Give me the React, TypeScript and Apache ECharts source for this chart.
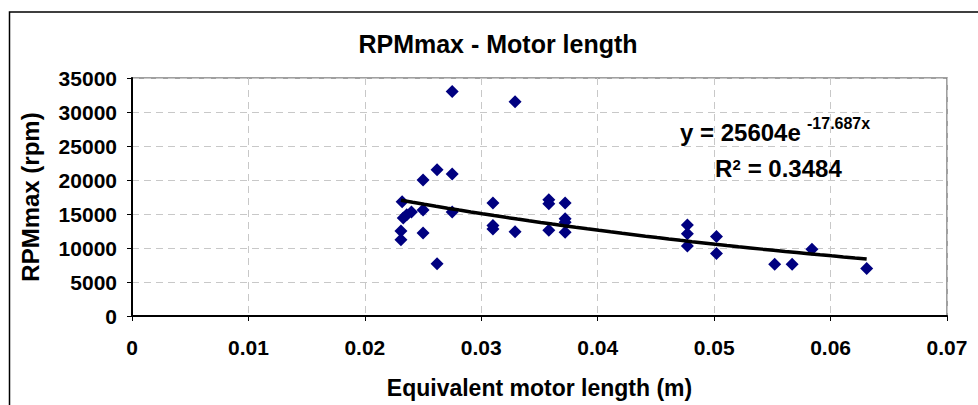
import React, { useEffect, useRef } from "react";
import * as echarts from "echarts";

// Equivalent motor length (m) and RPMmax (rpm)
const motorLength = [
  0.0232, 0.0233, 0.0236, 0.0240, 0.0231, 0.0231,
  0.0250, 0.0250, 0.0250, 0.0262, 0.0262, 0.0275, 0.0275, 0.0275,
  0.0310, 0.0310, 0.0310, 0.0329, 0.0329,
  0.0358, 0.0358, 0.0358, 0.0372, 0.0372, 0.0372, 0.0372,
  0.0477, 0.0477, 0.0477, 0.0502, 0.0502,
  0.0552, 0.0567, 0.0584, 0.0631,
];
const rpmMax = [
  16800, 14400, 14900, 15300, 12500, 11200,
  20000, 15600, 12200, 21500, 7700, 33000, 20900, 15300,
  16600, 13300, 12800, 31500, 12400,
  17100, 16500, 12600, 16600, 14300, 13800, 12300,
  13400, 12100, 10300, 11700, 9200,
  7600, 7600, 9800, 7000,
];

// Trend line y = A * exp(k x) as displayed in the chart
const trendA = 25604;
const trendK = -17.687;
const trendSteps = 40;

const xTicks = { min: 0, max: 0.07, interval: 0.01 };
const yTicks = { min: 0, max: 35000, interval: 5000 };

const FONT = "'Liberation Sans', Arial, sans-serif";

export default function App() {
  const ref = useRef<HTMLDivElement>(null);

  useEffect(() => {
    if (!ref.current) return;
    const chart = echarts.init(ref.current, undefined, { renderer: "svg" });

    const points = motorLength.map((x, i) => [x, rpmMax[i]]);
    const xMin = Math.min(...motorLength);
    const xMax = Math.max(...motorLength);
    const trend: number[][] = [];
    for (let i = 0; i <= trendSteps; i++) {
      const x = xMin + ((xMax - xMin) * i) / trendSteps;
      trend.push([x, trendA * Math.exp(trendK * x)]);
    }

    const txt = (text: string, x: number, y: number, size: number, align = "left") => ({
      type: "text",
      x,
      y,
      silent: true,
      style: {
        text,
        fill: "#000",
        font: `bold ${size}px ${FONT}`,
        textAlign: align,
        textVerticalAlign: "middle",
      },
    });

    chart.setOption({
      animation: false,
      backgroundColor: "#fff",
      grid: {
        left: 132,
        right: 31,
        top: 78,
        bottom: 89,
        show: true,
        borderColor: "#808080",
        borderWidth: 1.5,
      },
      xAxis: {
        type: "value",
        min: xTicks.min,
        max: xTicks.max,
        interval: xTicks.interval,
        name: "Equivalent motor length (m)",
        nameLocation: "middle",
        nameGap: 60,
        nameTextStyle: { fontFamily: FONT, fontWeight: "bold", fontSize: 23, color: "#000" },
        axisLine: { show: true, onZero: false, lineStyle: { color: "#000", width: 2 } },
        axisTick: { show: true, inside: false, length: 5, lineStyle: { color: "#000", width: 1 } },
        axisLabel: {
          margin: 21,
          fontFamily: FONT,
          fontWeight: "bold",
          fontSize: 21,
          color: "#000",
          formatter: (v: number) => String(Number(v.toFixed(4))),
        },
        splitLine: { show: true, lineStyle: { color: "#c8c8c8", width: 1, type: [7, 5] } },
      },
      yAxis: {
        type: "value",
        min: yTicks.min,
        max: yTicks.max,
        interval: yTicks.interval,
        name: "RPMmax (rpm)",
        nameLocation: "middle",
        nameGap: 90,
        nameRotate: 90,
        nameTextStyle: { fontFamily: FONT, fontWeight: "bold", fontSize: 24, color: "#000" },
        axisLine: { show: true, onZero: false, lineStyle: { color: "#000", width: 2 } },
        axisTick: { show: true, inside: false, length: 5, lineStyle: { color: "#000", width: 1 } },
        axisLabel: {
          margin: 15,
          fontFamily: FONT,
          fontWeight: "bold",
          fontSize: 21,
          color: "#000",
          formatter: (v: number) => String(v),
        },
        splitLine: { show: true, lineStyle: { color: "#c8c8c8", width: 1, type: [7, 5] } },
      },
      series: [
        {
          type: "scatter",
          data: points,
          symbol: "diamond",
          symbolSize: 13,
          itemStyle: { color: "#000080", opacity: 1 },
          z: 3,
        },
        {
          type: "line",
          data: trend,
          showSymbol: false,
          symbol: "none",
          lineStyle: { color: "#000", width: 3.5 },
          z: 4,
        },
      ],
      graphic: [
        {
          type: "rect",
          shape: { x: 9.5, y: 12, width: 1000, height: 500 },
          style: { fill: "none", stroke: "#000", lineWidth: 1.5 },
          silent: true,
          z: 10,
        },
        txt("RPMmax - Motor length", 498, 43.5, 25, "center"),
        txt("y = 25604e", 680, 132, 24),
        txt("-17.687x", 807, 123, 16),
        txt("R", 715, 168.5, 24),
        txt("2", 732.5, 164.5, 15),
        txt(" = 0.3484", 741, 168.5, 24),
      ],
    });

    return () => chart.dispose();
  }, []);

  return (
    <div
      ref={ref}
      style={{ position: "fixed", left: 0, top: 0, width: 978, height: 405 }}
    />
  );
}
